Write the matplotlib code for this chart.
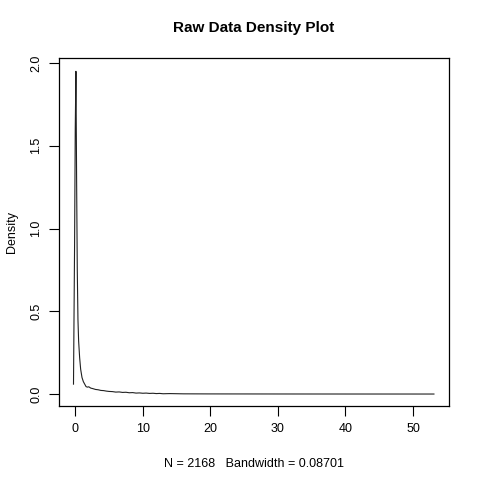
import matplotlib
matplotlib.use("Agg")
import matplotlib.pyplot as plt

# density curve
dens_x = [-0.26, -0.1, 0.0, 0.1, 0.2, 0.3, 0.4, 0.5, 0.65, 0.8, 1.0, 1.2, 1.4,
          1.6, 1.8, 2.0, 2.3, 2.6, 3.0, 3.4, 3.8, 4.2, 4.6, 5.0, 5.5, 6.0, 6.5,
          7.0, 7.5, 8.0, 8.5, 9.0, 9.5, 10.0, 10.5, 11.0, 11.5, 12.0, 12.5, 13.0,
          14.0, 16.0, 20.0, 25.0, 30.0, 40.0, 53.1]
dens_y = [0.06, 0.9, 1.6, 1.95, 1.3, 0.75, 0.45, 0.32, 0.22, 0.15, 0.10, 0.075, 0.06,
          0.045, 0.042, 0.044, 0.036, 0.033, 0.028, 0.026, 0.022, 0.021, 0.018, 0.016,
          0.015, 0.012, 0.013, 0.010, 0.011, 0.008, 0.009, 0.006, 0.007, 0.005, 0.006,
          0.004, 0.005, 0.003, 0.004, 0.002, 0.003, 0.0015, 0.001, 0.0008, 0.0006,
          0.0004, 0.0003]

x_ticks = [0, 10, 20, 30, 40, 50]
y_ticks = [0.0, 0.5, 1.0, 1.5, 2.0]
y_labels = ["0.0", "0.5", "1.0", "1.5", "2.0"]

plt.rcParams.update({"font.family": ["Liberation Sans", "DejaVu Sans"], "font.size": 9})

fig = plt.figure(figsize=(4.8, 4.8), dpi=100)
ax = fig.add_axes([0.123, 0.154, 0.812, 0.725])
ax.plot(dens_x, dens_y, color="#202020", lw=0.8)

ax.set_xlim(-2.4, 55.3)
ax.set_ylim(-0.0725, 2.03)
ax.set_xticks(x_ticks)
ax.set_yticks(y_ticks)
ax.set_yticklabels(y_labels, rotation=90, va="center")
ax.tick_params(direction="out", length=7, width=0.8, color="black", pad=5)
for sp in ax.spines.values():
    sp.set_linewidth(0.9)
    sp.set_color("black")

ax.set_title("Raw Data Density Plot", fontweight="bold", fontsize=11, pad=19)
ax.set_xlabel("N = 2168   Bandwidth = 0.08701", labelpad=17)
ax.set_ylabel("Density", labelpad=9)

fig.savefig("out.png", dpi=100)
